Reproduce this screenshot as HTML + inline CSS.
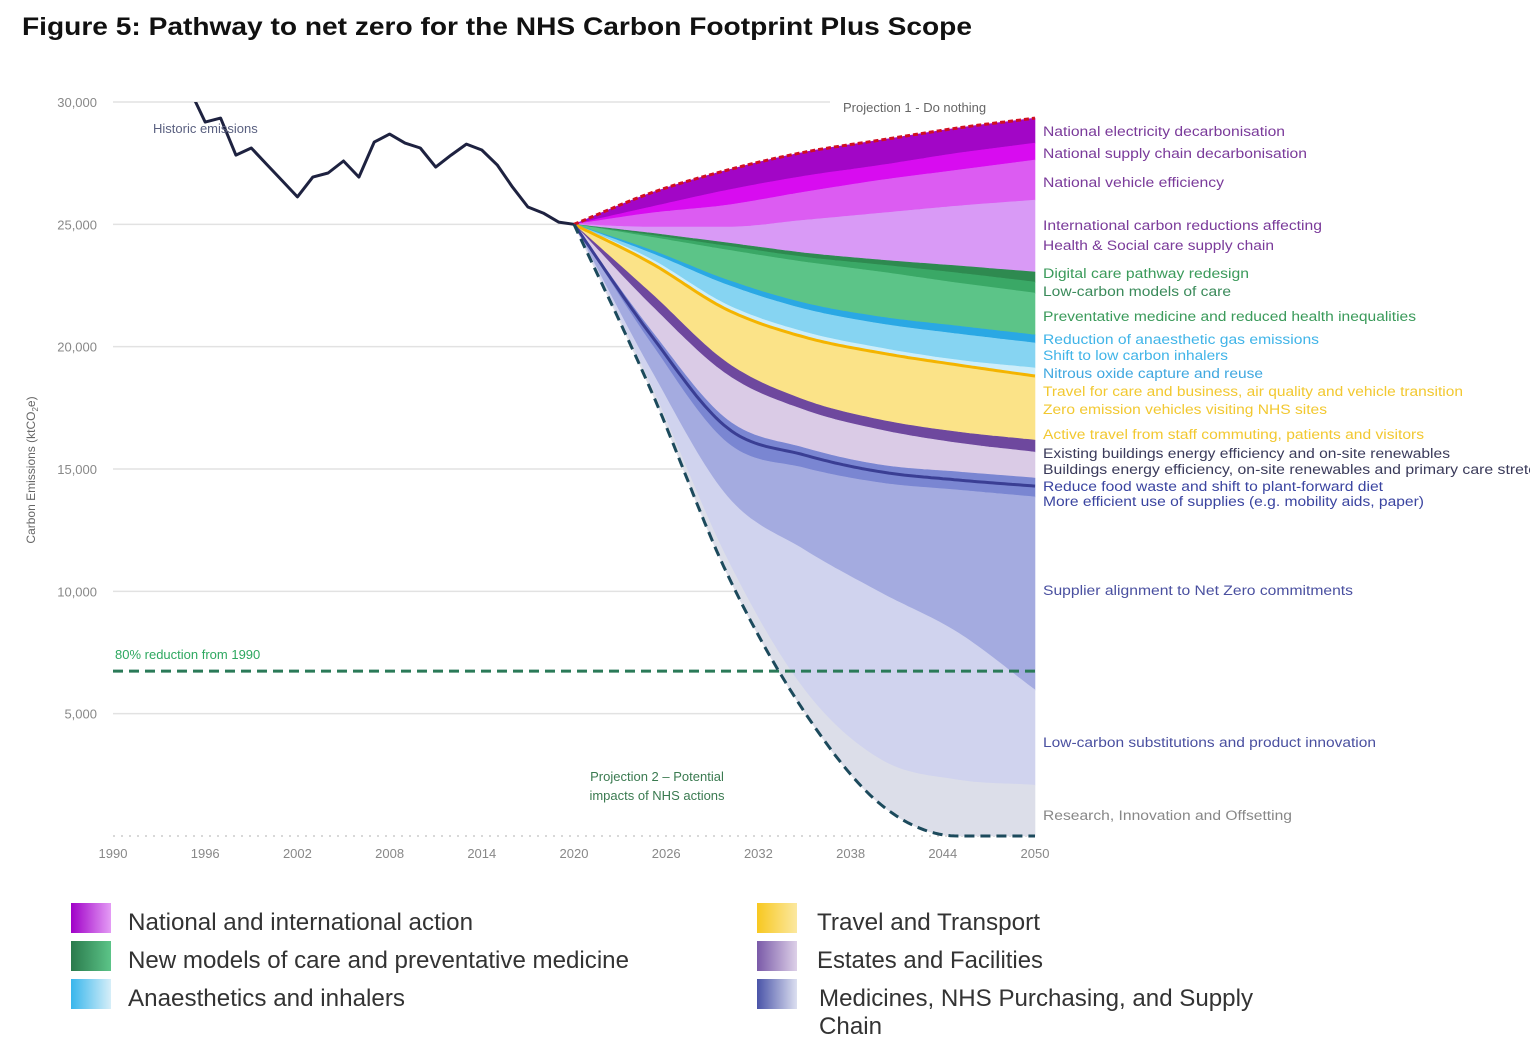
<!DOCTYPE html>
<html><head><meta charset="utf-8"><style>
html,body{margin:0;padding:0;background:#fff;}
svg{display:block;font-family:"Liberation Sans",Arial,sans-serif;}
</style></head><body>
<svg id="chart" width="1530" height="1055" viewBox="0 0 1530 1055" xmlns="http://www.w3.org/2000/svg">
<defs>
<clipPath id="plotclip"><rect x="100" y="102" width="960" height="740"/></clipPath>
<linearGradient id="gNat" x1="0" x2="1"><stop offset="0" stop-color="#a000c8"/><stop offset="1" stop-color="#e49cf5"/></linearGradient>
<linearGradient id="gGreen" x1="0" x2="1"><stop offset="0" stop-color="#2a7a4c"/><stop offset="1" stop-color="#5cc488"/></linearGradient>
<linearGradient id="gBlue" x1="0" x2="1"><stop offset="0" stop-color="#38b6ec"/><stop offset="1" stop-color="#d6eef8"/></linearGradient>
<linearGradient id="gYel" x1="0" x2="1"><stop offset="0" stop-color="#f8c820"/><stop offset="1" stop-color="#fbe8a0"/></linearGradient>
<linearGradient id="gEst" x1="0" x2="1"><stop offset="0" stop-color="#7a5aa8"/><stop offset="1" stop-color="#ddd0e8"/></linearGradient>
<linearGradient id="gMed" x1="0" x2="1"><stop offset="0" stop-color="#4a54a8"/><stop offset="1" stop-color="#dcdff0"/></linearGradient>
</defs>
<text x="22" y="35" font-size="25" font-weight="bold" fill="#111" textLength="950" lengthAdjust="spacingAndGlyphs">Figure 5: Pathway to net zero for the NHS Carbon Footprint Plus Scope</text>
<g id="grid"></g>
<g id="bands" clip-path="url(#plotclip)"></g>
<g id="lines"></g>
<g id="labels"></g>
<text transform="translate(35,470) rotate(-90)" text-anchor="middle" font-size="12" fill="#666">Carbon Emissions (ktCO<tspan font-size="8" dy="3">2</tspan><tspan dy="-3">e)</tspan></text>
<text x="153" y="133" font-size="13" fill="#5a6080">Historic emissions</text>
<text x="843" y="112" font-size="13" fill="#666">Projection 1 - Do nothing</text>
<text x="657" y="781" font-size="13" fill="#3a7a50" text-anchor="middle">Projection 2 – Potential</text>
<text x="657" y="800" font-size="13" fill="#3a7a50" text-anchor="middle">impacts of NHS actions</text>
<text x="115" y="659" font-size="13" fill="#2ea860">80% reduction from 1990</text>
<g id="legend"></g>
</svg>
<script>
const NS='http://www.w3.org/2000/svg';
// ---- data ----
const historicYears=[1995,1996,1997,1998,1999,2000,2001,2002,2003,2004,2005,2006,2007,2008,2009,2010,2011,2012,2013,2014,2015,2016,2017,2018,2019,2020];
const historicValues=[30500,29180,29340,27830,28120,27450,26790,26120,26930,27100,27590,26930,28360,28690,28320,28120,27340,27830,28280,28040,27430,26520,25710,25460,25090,25000];
const projYears=[2020,2025,2030,2035,2040,2045,2050];
const doNothing=[25000,26280,27220,27950,28450,28940,29340];
const bElecBottom=[25000,25710,26400,26970,27420,27910,28320];
const bSupplyBottom=[25000,25460,25790,26320,26810,27220,27630];
const bVehicleBottom=[25000,24890,24890,25170,25460,25750,25990];
const bIntlBottom=[25000,24640,24240,23830,23540,23300,23050];
const bDigitalBottom=[25000,24560,24110,23660,23340,23010,22640];
const bLowCarbonCareBottom=[25000,24480,23950,23460,23050,22600,22190];
const bPreventBottom=[25000,23950,22720,21780,21210,20840,20480];
const bAnaesBottom=[25000,23830,22520,21540,20930,20520,20150];
const bInhalerBottom=[25000,23580,21700,20600,19940,19450,19130];
const bNitrousBottom=[25000,23420,21500,20390,19740,19250,18800];
const bTravelBottom=[25000,22190,19330,17820,17000,16510,16180];
const bExistBldBottom=[25000,21700,18840,17410,16590,16060,15690];
const bBldStretchBottom=[25000,20680,17000,15860,15160,14880,14630];
const bFoodBottom=[25000,20480,16670,15570,14880,14550,14300];
const bSuppliesBottom=[25000,20150,16060,15040,14430,14140,13860];
const bSupplierBottom=[25000,19050,13860,11690,9930,8300,5970];
const bSubstBottom=[25000,18430,11280,5970,3110,2290,2080];
const projection2=[25000,18230,10670,5070,1270,0,0];
const targetValue=6740;
const yTicks=[0,5000,10000,15000,20000,25000,30000];
const yTickLabels=['','5,000','10,000','15,000','20,000','25,000','30,000'];
const xTicks=[1990,1996,2002,2008,2014,2020,2026,2032,2038,2044,2050];

// ---- scales ----
const X=yr=>113+(yr-1990)*(922/60);
const Y=v=>836-v*(734/30000);

function monotone(xs,ys){
  const n=xs.length,d=[],m=[];
  for(let i=0;i<n-1;i++)d.push((ys[i+1]-ys[i])/(xs[i+1]-xs[i]));
  m[0]=d[0];m[n-1]=d[n-2];
  for(let i=1;i<n-1;i++){m[i]=(d[i-1]*d[i]<=0)?0:(d[i-1]+d[i])/2;}
  for(let i=0;i<n-1;i++){if(d[i]===0){m[i]=0;m[i+1]=0;continue;}
    const a=m[i]/d[i],b=m[i+1]/d[i],s=a*a+b*b;if(s>9){const t=3/Math.sqrt(s);m[i]=t*a*d[i];m[i+1]=t*b*d[i];}}
  const pts=[];
  for(let i=0;i<n-1;i++){const h=xs[i+1]-xs[i];
    for(let k=0;k<20;k++){const t=k/20,t2=t*t,t3=t2*t;
      const v=(2*t3-3*t2+1)*ys[i]+(t3-2*t2+t)*h*m[i]+(-2*t3+3*t2)*ys[i+1]+(t3-t2)*h*m[i+1];
      pts.push([X(xs[i]+t*h),Y(v)]);}}
  pts.push([X(xs[n-1]),Y(ys[n-1])]);return pts;
}
function mk(tag,attrs,parent){const e=document.createElementNS(NS,tag);for(const k in attrs)e.setAttribute(k,attrs[k]);parent.appendChild(e);return e;}
const toD=p=>p.map((q,i)=>(i?'L':'M')+q[0].toFixed(1)+','+q[1].toFixed(1)).join('');

// grid
const grid=document.getElementById('grid');
yTicks.forEach((v,i)=>{
  if(v>0){const gl=mk('line',{x1:113,x2:(v===30000?830:1035),y1:Y(v),y2:Y(v),stroke:'#e2e2e2','stroke-width':1.5},grid);
  
  }
  const t=mk('text',{x:97,y:Y(v)+5,'text-anchor':'end','font-size':13,fill:'#888'},grid);t.textContent=yTickLabels[i];
  
  
});
const ax=mk('line',{x1:113,x2:1035,y1:836,y2:836,stroke:'#ccc','stroke-width':1.5,'stroke-dasharray':'2 6'},grid);


xTicks.forEach(yr=>{const t=mk('text',{x:X(yr),y:858,'text-anchor':'middle','font-size':13,fill:'#888'},grid);t.textContent=yr;
  
  });

// bands
const boundaries=[doNothing,bElecBottom,bSupplyBottom,bVehicleBottom,bIntlBottom,bDigitalBottom,bLowCarbonCareBottom,bPreventBottom,bAnaesBottom,bInhalerBottom,bNitrousBottom,bTravelBottom,bExistBldBottom,bBldStretchBottom,bFoodBottom,bSuppliesBottom,bSupplierBottom,bSubstBottom,projection2];
const bandNames=['electricity-band','supply-chain-band','vehicle-efficiency-band','international-band','digital-care-band','low-carbon-care-band','preventative-band','anaesthetic-band','inhalers-band','nitrous-band','travel-band','existing-buildings-band','buildings-stretch-band','food-waste-band','supplies-band','supplier-alignment-band','substitutions-band','research-band'];
const bandColors=['#a206c6','#d80cf0','#dc5cf2','#d99af6','#2e8a50','#3aa866','#5cc488','#2aa8e4','#86d4f2','#cdeefa','#fbe388','#6e489e','#dacbe6','#7a86d2','#7a86d2','#a4abe0','#d0d3ee','#dcdee9'];
const curves=boundaries.map(b=>monotone(projYears,b));
const bands=document.getElementById('bands');
for(let i=0;i<bandColors.length;i++){
  const d=toD(curves[i])+toD(curves[i+1].slice().reverse()).replace('M','L')+'Z';
  const p=mk('path',{d:d,fill:bandColors[i],stroke:bandColors[i],'stroke-width':0.6},bands);
  
  
}
const lines=document.getElementById('lines');
const ol=mk('path',{d:toD(curves[11-1]),fill:'none',stroke:'#f4b400','stroke-width':3},bands);


const dl=mk('path',{d:toD(curves[14]),fill:'none',stroke:'#3a3e94','stroke-width':3},bands);


// target line
const tl=mk('line',{x1:113,x2:1035,y1:Y(targetValue),y2:Y(targetValue),stroke:'#2a7a58','stroke-width':3,'stroke-dasharray':'10 6'},lines);


// historic
const hp=mk('path',{d:toD(historicYears.map((y,i)=>[X(y),Y(historicValues[i])])),fill:'none',stroke:'#1e2240','stroke-width':3,'stroke-linejoin':'round','clip-path':'url(#plotclip)'},lines);


const p1=mk('path',{d:toD(curves[0]),fill:'none',stroke:'#d01020','stroke-width':3,'stroke-dasharray':'5 3'},lines);


const p2=mk('path',{d:toD(curves[curves.length-1]),fill:'none',stroke:'#1c4a5c','stroke-width':3,'stroke-dasharray':'10 6'},lines);



// right labels
const rl=[[131,'National electricity decarbonisation','#7a3a9a',1285],[153,'National supply chain decarbonisation','#7a3a9a',1307],[182,'National vehicle efficiency','#7a3a9a',1224],[225,'International carbon reductions affecting','#7a3a9a',1322],[245,'Health & Social care supply chain','#7a3a9a',1274],[273,'Digital care pathway redesign','#3a9a5a',1249],[291,'Low-carbon models of care','#3a8a5a',1231],[316,'Preventative medicine and reduced health inequalities','#3a9a5a',1416],[339,'Reduction of anaesthetic gas emissions','#40b4e8',1319],[355,'Shift to low carbon inhalers','#40b4e8',1228],[373,'Nitrous oxide capture and reuse','#40a8e0',1263],[391,'Travel for care and business, air quality and vehicle transition','#f2c830',1463],[409,'Zero emission vehicles visiting NHS sites','#f2c830',1327],[434,'Active travel from staff commuting, patients and visitors','#f2c830',1424],[453,'Existing buildings energy efficiency and on-site renewables','#3a3a5a',1450],[469,'Buildings energy efficiency, on-site renewables and primary care stretch','#3a3a5a',1545],[486,'Reduce food waste and shift to plant-forward diet','#3a44a0',1383],[501,'More efficient use of supplies (e.g. mobility aids, paper)','#3a44a0',1424],[590,'Supplier alignment to Net Zero commitments','#4a50a0',1353],[742,'Low-carbon substitutions and product innovation','#4a50a0',1376],[815,'Research, Innovation and Offsetting','#888',1292]];
const lab=document.getElementById('labels');
rl.forEach(r=>{const t=mk('text',{x:1043,y:r[0]+5,'font-size':13.5,fill:r[2],textLength:r[3]-1043,lengthAdjust:'spacingAndGlyphs'},lab);t.textContent=r[1];
  
  });

// legend
const lg=document.getElementById('legend');
const le=[[71,903,'gNat','National and international action',128,473,930],[71,941,'gGreen','New models of care and preventative medicine',128,629,968],[71,979,'gBlue','Anaesthetics and inhalers',128,405,1006],[757,903,'gYel','Travel and Transport',817,1040,930],[757,941,'gEst','Estates and Facilities',817,1043,968],[757,979,'gMed','Medicines, NHS Purchasing, and Supply',819,1253,1006]];
le.forEach(e=>{const r=mk('rect',{x:e[0],y:e[1],width:40,height:30,fill:'url(#'+e[2]+')'},lg);
  
  
  const t=mk('text',{x:e[4],y:e[6],'font-size':24,fill:'#333',textLength:e[5]-e[4],lengthAdjust:'spacingAndGlyphs'},lg);t.textContent=e[3];
  
  });
const ch=mk('text',{x:819,y:1034,'font-size':24,fill:'#333',textLength:63,lengthAdjust:'spacingAndGlyphs'},lg);ch.textContent='Chain';


</script>
</body></html>
